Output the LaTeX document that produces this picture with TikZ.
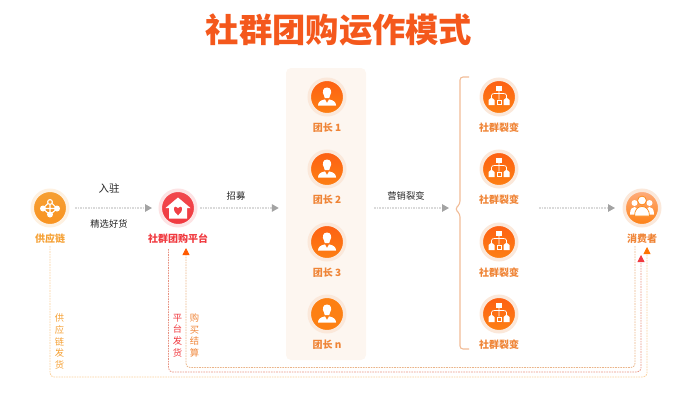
\documentclass[tikz,border=0pt]{standalone}
\usepackage{fontspec}
\setmainfont{Noto Sans CJK SC}
\usetikzlibrary{arrows.meta,calc}

\definecolor{titleor}{HTML}{F4581C}
\definecolor{panelbg}{HTML}{FDF6F0}
\definecolor{ringor}{HTML}{FBE8DA}
\definecolor{labor}{HTML}{EF8436}
\definecolor{labye}{HTML}{F5A136}
\definecolor{labre}{HTML}{F0393F}
\definecolor{flowgr}{HTML}{DADADA}
\definecolor{tipgr}{HTML}{A3A3A3}
\definecolor{bracor}{HTML}{F1BC97}
\definecolor{dotor}{HTML}{FD6A16}

\begin{document}
\begin{tikzpicture}[
		x=1pt,
		y=-1pt,
		dot/.style={circle, inner sep=0pt, minimum size=35.5pt, line width=3.5pt, draw=ringor, top color=#1, bottom color=#1},
		dotor/.style={dot=dotor, top color=dotor!90!red, bottom color=dotor!85!yellow},
		lab/.style={text=labor, inner sep=0pt, font=\bfseries\fontsize{10}{12}\selectfont},
		txt/.style={text=black!85, inner sep=0pt, font=\fontsize{9.3}{11}\selectfont},
		vert/.style={align=center, inner sep=0pt, font=\fontsize{9.3}{11.7}\selectfont},
		flow/.style={dash pattern=on 1.5pt off 1.1pt, line width=1.3pt, flowgr, -{Triangle[length=7pt,width=7.5pt,color=tipgr]}},
		route/.style={dash pattern=on 1.6pt off 1pt, line width=.8pt, rounded corners=4pt},
		leadicon/.pic={
			\fill[white] (0,-9.5) .. controls (-4.6,-9.5) and (-5,-4.5) .. (-3,-1.5) -- (-2.2,1.2) -- (2.2,1.2) -- (3,-1.5) .. controls (5,-4.5) and (4.6,-9.5) .. (0,-9.5) -- cycle;
			\fill[white] (-9,8.5) .. controls (-9,5) and (-6.5,3.2) .. (-2,2.4) -- (0,6) -- (2,2.4) .. controls (6.5,3.2) and (9,5) .. (9,8.5) -- cycle;
		},
		fisicon/.pic={
			\fill[white] (-2.6,-11) rectangle (2.6,-6);
			\draw[white, line width=.7pt] (0,-6) -- (0,2.5) (-7.5,1) -- (-7.5,-1.5) .. controls (-7.5,-3) and (-6,-3.5) .. (-4.5,-3.5) -- (4.5,-3.5) .. controls (6,-3.5) and (7.5,-3) .. (7.5,-1.5) -- (7.5,1);
			\fill[white] (-10.5,3) -- (-7.5,0.5) -- (-4.5,3) -- (-4.5,8) -- (-10.5,8) -- cycle;
			\fill[white] (10.5,3) -- (7.5,0.5) -- (4.5,3) -- (4.5,8) -- (10.5,8) -- cycle;
			\draw[white, line width=.9pt] (-2,3) rectangle (2,7.6);
		}
		]
		
		% title
		\node[inner sep=0pt, text=titleor, font=\bfseries\fontsize{33.3}{36}\selectfont] (title) at (339,30) {社群团购运作模式};
		
		% leader panel
		\node[fill=panelbg, rounded corners=5pt, inner sep=0pt, minimum width=80pt, minimum height=292pt] (panel) at (326,214) {};
		
		% left and right nodes
		\node[dot=labye, draw=labye!15, top color=labye!95!orange, bottom color=orange!40!labye] (sup) at (50,208) {};
		\node[dot=labre, draw=labre!14, top color=labre!92!white, bottom color=labre] (plat) at (178,208) {};
		\node[dot=dotor, top color=dotor!55!white, bottom color=dotor!85!yellow] (con) at (642,208) {};
		\node[lab, text=labye] (supl) at (50,239) {供应链};
		\node[lab, text=labre] (platl) at (178,239) {社群团购平台};
		\node[lab] (conl) at (642,239) {消费者};
		
		% leaders
		\node[dotor] (lead1) at (327,97) {};
		\node[dotor] (lead2) at (327,169) {};
		\node[dotor] (lead3) at (327,242) {};
		\node[dotor, top color=dotor!85!yellow] (leadn) at (327,314) {};
		\node[lab] (leadl1) at (327,128) {团长 1};
		\node[lab] (leadl2) at (327,200) {团长 2};
		\node[lab] (leadl3) at (327,273) {团长 3};
		\node[lab] (leadln) at (327,345) {团长 n};
		\pic at (lead1) {leadicon};
		\pic at (lead2) {leadicon};
		\pic at (lead3) {leadicon};
		\pic at (leadn) {leadicon};
		
		% fission groups
		\node[dotor] (fis1) at (499,97) {};
		\node[dotor] (fis2) at (499,169) {};
		\node[dotor] (fis3) at (499,242) {};
		\node[dotor] (fis4) at (499,314) {};
		\node[lab] (fisl1) at (499,128) {社群裂变};
		\node[lab] (fisl2) at (499,200) {社群裂变};
		\node[lab] (fisl3) at (499,273) {社群裂变};
		\node[lab] (fisl4) at (499,345) {社群裂变};
		\pic at (fis1) {fisicon};
		\pic at (fis2) {fisicon};
		\pic at (fis3) {fisicon};
		\pic at (fis4) {fisicon};
		
		% brace
		\coordinate (brtip) at (455,209);
		\draw[bracor, line width=1.1pt, rounded corners=3pt] (469,77) -- (460,77) -- (460,204) -- (brtip) -- (460,214) -- (460,349) -- (469,349);
		
		% supplier icon
		\draw[white, line width=1.1pt] (50,202) circle (2.4) (50,204.5) -- (50,214) (43,208.5) -- (57,208.5) (43,208.5) -- (47.8,203.6) (57,208.5) -- (52.2,203.6) (43,208.5) -- (50,215) -- (57,208.5);
		\fill[white] (43,208.5) circle (3) (57,208.5) circle (3) (50,214.5) circle (3);
		% platform icon
		\fill[white, even odd rule] (178,197.5) -- (190.5,208) -- (187,208) -- (187,218.5) -- (169,218.5) -- (169,208) -- (165.5,208) -- cycle
		(178,215.5) .. controls (172.5,211.5) and (173,206.5) .. (175.6,206.5) .. controls (176.8,206.5) and (177.6,207.2) .. (178,208) .. controls (178.4,207.2) and (179.2,206.5) .. (180.4,206.5) .. controls (183,206.5) and (183.5,211.5) .. (178,215.5) -- cycle;
		% consumer icon
		\fill[white] (634.5,203) circle (3) (649.5,203) circle (3);
		\fill[white] (630,214.5) .. controls (630,209) and (632,207) .. (634.5,207) .. controls (637,207) and (639,209) .. (639,214.5) -- cycle;
		\fill[white] (654,214.5) .. controls (654,209) and (652,207) .. (649.5,207) .. controls (647,207) and (645,209) .. (645,214.5) -- cycle;
		\fill[white, draw=dotor!80!yellow, line width=.7pt] (642,200.5) circle (4.4);
		\fill[white, draw=dotor!80!yellow, line width=.7pt] (634.5,216) .. controls (634.5,209.5) and (638,206.5) .. (642,206.5) .. controls (646,206.5) and (649.5,209.5) .. (649.5,216) -- cycle;
		
		% top row
		\draw[flow, shorten <=5.5pt, shorten >=6.5pt] (sup) -- (plat);
		\draw[flow, shorten <=2.5pt, shorten >=7pt] (plat) -- (panel.west |- plat);
		\draw[flow, shorten <=8pt, shorten >=6pt] (panel.east |- plat) -- (brtip |- plat);
		\coordinate (fisout) at (539,208);
		\draw[flow, shorten >=7.5pt] (fisout) -- (con);
		\node[txt, font=\fontsize{10.5}{12}\selectfont] (t1) at (109,188) {入驻};
		\node[txt] (t2) at (109,224) {精选好货};
		\node[txt] (t3) at (236,196) {招募};
		\node[txt] (t4) at (406,196) {营销裂变};
		
		% return routes
		\coordinate (supout) at (50,246);
		\coordinate (conin) at (647,247);
		\draw[route, draw=labye!50, -{Triangle[length=7pt,width=7pt,color=orange!90!red]}] (supout) -- (50,377) -- (647,377) -- (conin);
		\coordinate (platout) at (168.5,249);
		\coordinate (conin2) at (641,255);
		\draw[route, draw=labre!55!brown!65, -{Triangle[length=7pt,width=7pt,color=labre]}] (platout) -- (168.5,372) -- (641,372) -- (conin2);
		\coordinate (conout) at (635,246);
		\coordinate (platin) at (186,248);
		\draw[route, draw=labor!60!brown!60, -{Triangle[length=7pt,width=7pt,color=orange!70!red]}] (conout) -- (635,367.5) -- (186,367.5) -- (platin);
		
		% vertical labels
		\node[vert, text=labye] (v1) at (59.5,341.5) {供\\应\\链\\发\\货};
		\node[vert, text=labre] (v2) at (177.5,335.5) {平\\台\\发\\货};
		\node[vert, text=labor] (v3) at (194.5,335.5) {购\\买\\结\\算};
		
		\useasboundingbox (0,0) rectangle (700,402);
	\end{tikzpicture}
\end{document}
